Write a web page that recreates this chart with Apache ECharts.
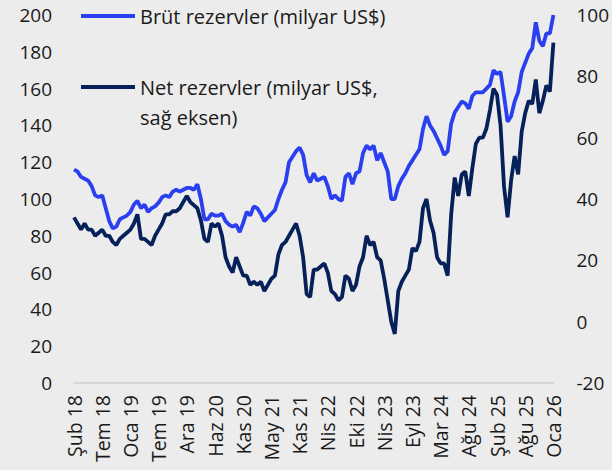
<!DOCTYPE html>
<html>
<head>
<meta charset="utf-8">
<script src="https://cdn.jsdelivr.net/npm/echarts@6/dist/echarts.min.js"></script>
<style>
html, body { margin: 0; padding: 0; background: #ececec; }
#chart { width: 612px; height: 470px; }
</style>
</head>
<body>
<div id="chart"></div>
<script>
// x ekseni: 3 haftalik noktalar, her 8 noktada bir etiket
var tickLabels = ['Şub 18', 'Tem 18', 'Oca 19', 'Tem 19', 'Ara 19', 'Haz 20', 'Kas 20', 'May 21', 'Kas 21',
    'Nis 22', 'Eki 22', 'Nis 23', 'Eyl 23', 'Mar 24', 'Ağu 24', 'Şub 25', 'Ağu 25', 'Oca 26'];
var pointsPerTick = 8;

// brut rezervler (milyar US$, sol eksen)
var grossReserves = [116, 115, 112, 111, 110, 107, 102, 101, 102, 95,
    88, 84, 85, 89, 90, 91, 93, 97, 99, 95,
    97, 93, 95, 96, 98, 101, 102, 101, 104, 105,
    104, 105, 106, 106, 105, 108, 100, 89, 89, 92,
    91, 91, 92, 88, 86, 85, 86, 82, 87, 93,
    91, 96, 95, 92, 88, 90, 92, 94, 100, 105,
    109, 120, 123, 126, 128, 124, 113, 109, 114, 110,
    111, 112, 107, 100, 102, 100, 99, 112, 114, 108,
    114, 115, 125, 129, 127, 129, 121, 125, 120, 115,
    100, 100, 107, 111, 114, 118, 121, 124, 127, 138,
    145, 140, 137, 133, 129, 124, 126, 141, 147, 150,
    153, 152, 149, 156, 158, 158, 158, 160, 162, 170,
    168, 169, 156, 142, 145, 153, 158, 169, 174, 179,
    182, 196, 186, 183, 190, 190, 200];

// net rezervler (milyar US$, sag eksen)
var netReserves = [34, 32, 30, 32, 30, 30, 28, 29, 30, 28,
    28, 26, 25, 27, 28, 29, 30, 32, 35, 27,
    27, 26, 25, 28, 30, 32, 35, 35, 36, 36,
    37, 39, 41, 39, 38, 37, 33, 27, 26, 32,
    31, 32, 28, 21, 18, 16, 21, 18, 15, 15,
    12, 13, 12, 13, 10, 12, 14, 15, 22, 25,
    26, 28, 30, 32, 28, 21, 9, 8, 17, 17,
    18, 19, 16, 10, 9, 7, 8, 15, 14, 10,
    12, 18, 21, 28, 25, 26, 21, 20, 14, 7,
    0, -4, 10, 13, 15, 17, 24, 23, 26, 37,
    40, 33, 29, 21, 19, 19, 15, 35, 47, 41,
    48, 49, 41, 50, 58, 60, 60, 63, 69, 76,
    74, 64, 44, 34, 46, 54, 48, 62, 68, 72,
    71, 79, 68, 72, 77, 75, 91];

var grossName = 'Brüt rezervler (milyar US$)';
var netName = 'Net rezervler (milyar US$,\nsağ eksen)';

var categories = [];
for (var i = 0; i < grossReserves.length; i++) {
    categories.push(i % pointsPerTick === 0 ? tickLabels[i / pointsPerTick] : '');
}

var font = 'Open Sans';
var textColor = '#1a1a1a';

// svg: canvas'ta dondurulmus eksen etiketleri duz ciziliyordu
var myChart = echarts.init(document.getElementById('chart'), null, {renderer: 'svg'});
var option = {
    backgroundColor: '#ececec',
    animation: false,
    grid: {
        left: 74,
        right: 55,
        top: 15,
        bottom: 87
    },
    legend: [
        {
            data: [grossName],
            left: 81,
            top: 3,
            padding: 0,
            icon: 'rect',
            itemWidth: 54,
            itemHeight: 4,
            textStyle: {fontFamily: font, fontSize: 20, color: textColor, lineHeight: 26}
        },
        {
            // bos ilk satir: ikon ilk metin satiriyla ayni hizada kalsin
            data: [netName],
            left: 81,
            top: 42,
            padding: 0,
            icon: 'rect',
            itemWidth: 54,
            itemHeight: 4,
            formatter: function (name) { return '\n' + name; },
            textStyle: {fontFamily: font, fontSize: 20, color: textColor, lineHeight: 30}
        }
    ],
    xAxis: {
        type: 'category',
        data: categories,
        boundaryGap: false,
        axisLine: {lineStyle: {color: '#d6d6d6', width: 2}},
        axisTick: {show: false},
        axisLabel: {
            interval: pointsPerTick - 1,
            rotate: 90,
            margin: 12,
            fontFamily: font,
            fontSize: 19.5,
            color: textColor
        }
    },
    yAxis: [
        {
            type: 'value',
            min: 0,
            max: 200,
            interval: 20,
            splitLine: {show: false},
            axisLine: {show: false},
            axisTick: {show: false},
            axisLabel: {margin: 22, fontFamily: font, fontSize: 19, color: textColor}
        },
        {
            type: 'value',
            min: -20,
            max: 100,
            interval: 20,
            splitLine: {show: false},
            axisLine: {show: false},
            axisTick: {show: false},
            axisLabel: {margin: 23, fontFamily: font, fontSize: 19, color: textColor}
        }
    ],
    series: [
        {
            name: grossName,
            type: 'line',
            data: grossReserves,
            yAxisIndex: 0,
            symbol: 'none',
            lineStyle: {color: '#2a3ff0', width: 3.8},
            itemStyle: {color: '#2a3ff0'}
        },
        {
            name: netName,
            type: 'line',
            data: netReserves,
            yAxisIndex: 1,
            symbol: 'none',
            lineStyle: {color: '#06205a', width: 3.8},
            itemStyle: {color: '#06205a'}
        }
    ]
};
myChart.setOption(option);
</script>
</body>
</html>
